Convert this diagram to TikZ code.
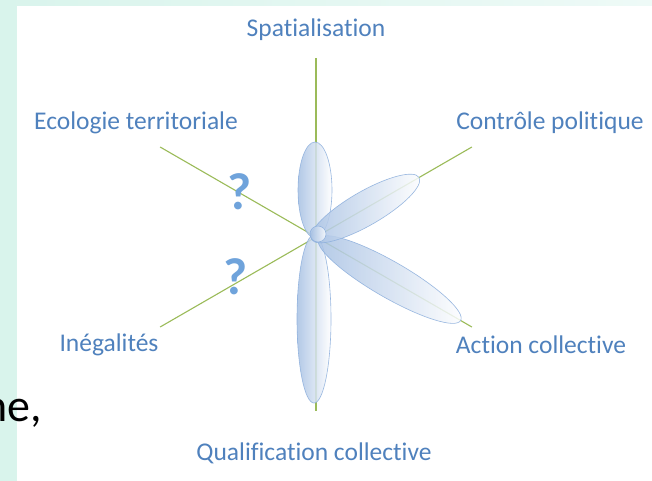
\documentclass[tikz,border=0pt]{standalone}
\usepackage{fontspec}
\setmainfont{Carlito}[Ligatures=NoCommon]
\usetikzlibrary{calc}
\definecolor{txtblue}{HTML}{4F81BD}
\definecolor{axisgreen}{HTML}{9BBB59}
\definecolor{mint}{HTML}{D9F4EC}
\definecolor{mintlight}{HTML}{EEFAF7}
\definecolor{petalblue}{HTML}{A6C0E3}
\definecolor{petaledge}{HTML}{8EB0DD}
\definecolor{qblue}{HTML}{6FA3DB}
\tikzset{
  lbl/.style={text=txtblue, font=\fontsize{25.5}{28}\selectfont, inner sep=0pt},
  axisline/.style={draw=axisgreen, line width=1.1pt},
  petal/.style={draw=petaledge, line width=0.6pt, left color=petalblue, right color=white, fill opacity=0.85, draw opacity=0.9},
  qmark/.style={text=qblue, font=\bfseries\fontsize{52}{52}\selectfont, inner sep=0pt}
}
\begin{document}
\begin{tikzpicture}[x=1pt,y=-1pt]
\useasboundingbox (0,0) rectangle (652,480);
% background
\shade[left color=mint, right color=mintlight] (0,0) rectangle (652,480);
\fill[white] (17,6) rectangle (653,481);
% center and axis ends
\coordinate (c) at (316,237);
\coordinate (eN) at (316,58);
\coordinate (eS) at (316,411);
\coordinate (eNE) at ($(c)+(-30:180)$);
\coordinate (eNW) at ($(c)+(-150:180)$);
\coordinate (eSE) at ($(c)+(30:180)$);
\coordinate (eSW) at ($(c)+(150:180)$);
\draw[axisline] (eN) -- (eS);
\draw[axisline] (eNE) -- (eSW);
\draw[axisline] (eNW) -- (eSE);
% petals
\shade[petal] (315,190) ellipse [x radius=17, y radius=48];
\shade[petal] (314,319) ellipse [x radius=17, y radius=84];
\shade[petal, rotate around={-30:(c)}] ($(c)+(85,0)$) ellipse [x radius=82, y radius=18];
\shade[petal, rotate around={30:(c)}] ($(c)+(57,0)$) ellipse [x radius=62, y radius=17];
\shade[petal] (318,234) circle [radius=8];
% labels
\node[lbl] (spat) at (316,30) {Spatialisation};
\node[lbl] (eco) at (136,123) {Ecologie territoriale};
\node[lbl] (ctrl) at (550,123) {Contrôle politique};
\node[lbl] (ineg) at (109,345) {Inégalités};
\node[lbl] (act) at (541,345) {Action collective};
\node[lbl] (qual) at (314,453) {Qualification collective};
% question marks
\node[qmark] (q1) at (240,192) {?};
\node[qmark] (q2) at (236,277) {?};
% partial text on the left (cut by the edge, as in the reference)
\node[anchor=base east, inner sep=0pt, font=\fontsize{46}{46}\selectfont] (ne) at (42,421) {ne,};
\end{tikzpicture}
\end{document}
